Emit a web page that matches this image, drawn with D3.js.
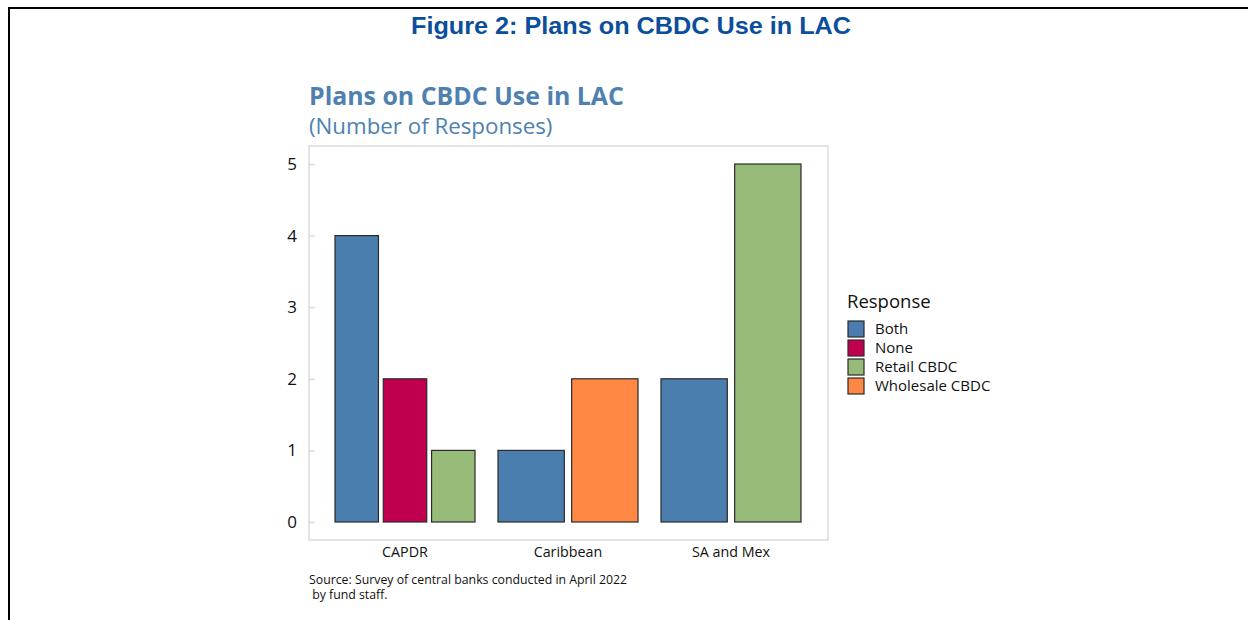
<!DOCTYPE html>
<html><head><meta charset="utf-8">
<script src="https://cdn.jsdelivr.net/npm/d3@7"></script>
<style>body{margin:0;background:#fff}svg{display:block}</style>
</head><body>
<script>
const categories = ["CAPDR", "Caribbean", "SA and Mex"];
const responses = ["Both", "None", "Retail CBDC", "Wholesale CBDC"];
const colors = ["#4a7eae", "#c0004e", "#97bb78", "#ff8844"];
const valBoth = [4, 1, 2];
const valNone = [2, 0, 0];
const valRetail = [1, 0, 5];
const valWholesale = [0, 2, 0];
const yTicks = [0, 1, 2, 3, 4, 5];
const series = [valBoth, valNone, valRetail, valWholesale];

const W = 1248, H = 620;
const svg = d3.select("body").append("svg").attr("width", W).attr("height", H);

// outer frame
svg.append("line").attr("x1", 8).attr("x2", W).attr("y1", 8).attr("y2", 8).attr("stroke", "#000").attr("stroke-width", 2);
svg.append("line").attr("x1", 9).attr("x2", 9).attr("y1", 7).attr("y2", H).attr("stroke", "#000").attr("stroke-width", 2);

svg.append("text").attr("x", 411).attr("y", 34)
  .attr("font-family", "Liberation Sans, Arial, sans-serif").attr("font-weight", "bold")
  .attr("font-size", 24).attr("fill", "#0b4f9c")
  .attr("textLength", 440).attr("lengthAdjust", "spacingAndGlyphs")
  .text("Figure 2: Plans on CBDC Use in LAC");

const font = "'Open Sans', 'Noto Sans', sans-serif";
svg.append("text").attr("x", 309).attr("y", 105).attr("font-family", font).attr("font-weight", "bold")
  .attr("font-size", 24.9).attr("fill", "#4e81b0").text("Plans on CBDC Use in LAC");
svg.append("text").attr("x", 309).attr("y", 134).attr("font-family", font)
  .attr("font-size", 22.3).attr("fill", "#4e81b0").text("(Number of Responses)");

const px0 = 309, px1 = 828, py0 = 146, py1 = 540;
const y = d3.scaleLinear().domain([0, 5]).range([522, 164]);
const x = d3.scaleBand().domain(categories).range([335, 801]).paddingInner(0.141).paddingOuter(0);

svg.append("rect").attr("x", px0).attr("y", py0).attr("width", px1 - px0).attr("height", py1 - py0)
  .attr("fill", "#fff").attr("stroke", "#dcdcdc").attr("stroke-width", 1.5);

const yAxis = svg.append("g").attr("transform", `translate(${px0},0)`)
  .call(d3.axisRight(y).tickValues(yTicks).tickSize(6).tickFormat(""));
yAxis.select(".domain").remove();
yAxis.selectAll("line").attr("stroke", "#dcdcdc").attr("stroke-width", 1.5);
svg.selectAll(".ylab").data(yTicks).enter().append("text")
  .attr("x", 297).attr("y", d => y(d)).attr("dy", "0.35em").attr("text-anchor", "end")
  .attr("font-family", font).attr("font-size", 17).attr("fill", "#111").text(d => d);

categories.forEach((c, ci) => {
  const present = responses.map((r, ri) => ({ r, ri, v: series[ri][ci] })).filter(d => d.v > 0);
  const inner = d3.scaleBand().domain(present.map(d => d.r)).range([x(c), x(c) + x.bandwidth()]).paddingInner(0.1);
  svg.append("g").selectAll("rect").data(present).enter().append("rect")
    .attr("x", d => inner(d.r)).attr("width", inner.bandwidth())
    .attr("y", d => y(d.v)).attr("height", d => y(0) - y(d.v))
    .attr("fill", d => colors[d.ri]).attr("stroke", "#2a2a2a").attr("stroke-width", 1.2);
  svg.append("text").attr("x", x(c) + x.bandwidth() / 2).attr("y", 557).attr("text-anchor", "middle")
    .attr("font-family", font).attr("font-size", 14.3).attr("fill", "#111").text(c);
});

const lg = svg.append("g").attr("transform", "translate(847,0)");
lg.append("text").attr("x", 0).attr("y", 308).attr("font-family", font).attr("font-size", 18.5).attr("fill", "#111").text("Response");
responses.forEach((r, i) => {
  const yy = 320 + i * 19;
  lg.append("rect").attr("x", 1).attr("y", yy + 1).attr("width", 16).attr("height", 16)
    .attr("fill", colors[i]).attr("stroke", "#2a2a2a").attr("stroke-width", 1.2);
  lg.append("text").attr("x", 28).attr("y", yy + 9).attr("dy", "0.35em")
    .attr("font-family", font).attr("font-size", 15).attr("fill", "#111").text(r);
});

svg.append("text").attr("x", 309).attr("y", 584).attr("font-family", font).attr("font-size", 12.3).attr("fill", "#111")
  .text("Source: Survey of central banks conducted in April 2022");
svg.append("text").attr("x", 309).attr("y", 599).attr("font-family", font).attr("font-size", 12.3).attr("fill", "#111")
  .text("\u00a0by fund staff.");
</script>
</body></html>
